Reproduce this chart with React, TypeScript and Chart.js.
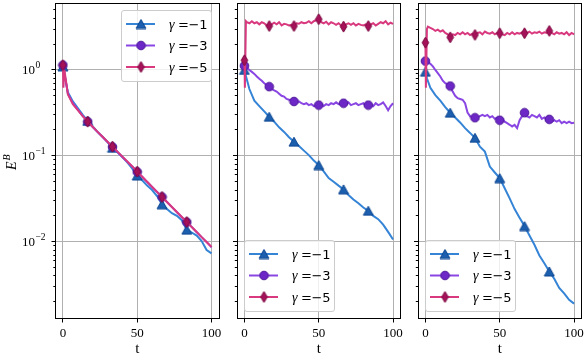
import React, { useEffect, useRef } from 'react';
import { Chart, registerables } from 'chart.js';

Chart.register(...registerables);

// ---------------- data ----------------
const T_COARSE = [0, 0.3, 1, 3.33, 6.67, 10, 13.33, 16.67, 20, 23.33, 26.67, 30, 33.33, 36.67, 40, 43.33, 46.67, 50, 53.33, 56.67, 60, 63.33, 66.67, 70, 73.33, 76.67, 80, 83.33, 86.67, 90, 93.33, 96.67, 100];
const T_FINE = [0, 0.3, 1, 1.67, 3.33, 5, 6.67, 8.33, 10, 11.67, 13.33, 15, 16.67, 18.33, 20, 21.67, 23.33, 25, 26.67, 28.33, 30, 31.67, 33.33, 35, 36.67, 38.33, 40, 41.67, 43.33, 45, 46.67, 48.33, 50, 51.67, 53.33, 55, 56.67, 58.33, 60, 61.67, 63.33, 65, 66.67, 68.33, 70, 71.67, 73.33, 75, 76.67, 78.33, 80, 81.67, 83.33, 85, 86.67, 88.33, 90, 91.67, 93.33, 95, 96.67, 98.33, 100];

const MARKER_T = [0, 16.67, 33.33, 50, 66.67, 83.33];
const X_TICKS = [0, 50, 100];
const Y_TICKS = [0.002, 0.003, 0.004, 0.005, 0.006, 0.007, 0.008, 0.009, 0.01, 0.02, 0.03, 0.04, 0.05, 0.06, 0.07, 0.08, 0.09, 0.1, 0.2, 0.3, 0.4, 0.5, 0.6, 0.7, 0.8, 0.9, 1, 2, 3, 4, 5];
const Y_LABEL_VALUES = [1, 0.1, 0.01];
const Y_LABEL_EXPONENTS = ['0', '−1', '−2'];
const GAMMAS = ['-1', '-3', '-5'];
const X_TITLE = 't';

// panel 1
const P1_G1 = [1.1, 1.0, 0.88, 0.55, 0.43, 0.36, 0.30, 0.255, 0.22, 0.19, 0.167, 0.145, 0.124, 0.11, 0.097, 0.084, 0.071, 0.059, 0.052, 0.045, 0.040, 0.034, 0.0273, 0.024, 0.0215, 0.020, 0.0178, 0.0138, 0.0128, 0.0118, 0.0102, 0.0080, 0.0073];
const P1_G3 = [1.14, 1.05, 0.92, 0.53, 0.41, 0.345, 0.29, 0.25, 0.216, 0.189, 0.166, 0.145, 0.127, 0.111, 0.097, 0.085, 0.075, 0.065, 0.057, 0.0495, 0.0433, 0.038, 0.0332, 0.029, 0.0253, 0.022, 0.0193, 0.0169, 0.0148, 0.0129, 0.0113, 0.0099, 0.0086];
const P1_G5 = [1.14, 0.62, 1.0, 0.52, 0.40, 0.34, 0.29, 0.25, 0.218, 0.19, 0.167, 0.146, 0.128, 0.112, 0.098, 0.086, 0.075, 0.0655, 0.057, 0.050, 0.0435, 0.038, 0.0332, 0.029, 0.0254, 0.0222, 0.0194, 0.0170, 0.0148, 0.0130, 0.0113, 0.0099, 0.0087];

// panel 2
const P2_G1 = [1.0, 0.95, 0.85, 0.6, 0.44, 0.38, 0.33, 0.285, 0.25, 0.215, 0.19, 0.165, 0.146, 0.13, 0.115, 0.102, 0.088, 0.078, 0.066, 0.055, 0.050, 0.045, 0.0407, 0.035, 0.031, 0.028, 0.025, 0.0229, 0.020, 0.0183, 0.0158, 0.013, 0.0106];
const P2_G3 = [1.12, 1.1, 1.08, 1.06, 1.0, 0.95, 0.9, 0.84, 0.79, 0.75, 0.7, 0.67, 0.64, 0.6, 0.58, 0.56, 0.53, 0.5, 0.49, 0.46, 0.45, 0.44, 0.43, 0.42, 0.43, 0.41, 0.40, 0.41, 0.39, 0.40, 0.38, 0.39, 0.39, 0.40, 0.38, 0.40, 0.39, 0.41, 0.40, 0.42, 0.40, 0.41, 0.41, 0.40, 0.42, 0.39, 0.40, 0.41, 0.39, 0.40, 0.41, 0.38, 0.39, 0.40, 0.38, 0.41, 0.39, 0.40, 0.42, 0.38, 0.34, 0.38, 0.41];
const P2_G5 = [1.3, 0.62, 3.7, 3.6, 3.5, 3.7, 3.5, 3.6, 3.4, 3.6, 3.5, 3.3, 3.25, 3.4, 3.55, 3.4, 3.6, 3.3, 3.45, 3.4, 3.3, 3.35, 3.25, 3.5, 3.45, 3.6, 3.5, 3.55, 3.7, 3.5, 3.7, 3.8, 3.9, 3.6, 3.5, 3.65, 3.4, 3.6, 3.5, 3.35, 3.5, 3.3, 3.2, 3.4, 3.5, 3.35, 3.5, 3.3, 3.45, 3.35, 3.3, 3.4, 3.25, 3.4, 3.5, 3.3, 3.45, 3.6, 3.5, 3.7, 3.4, 3.55, 3.45];

// panel 3
const P3_G1 = [0.955, 0.9, 0.8, 0.62, 0.51, 0.44, 0.37, 0.318, 0.28, 0.245, 0.21, 0.185, 0.162, 0.128, 0.112, 0.075, 0.064, 0.055, 0.042, 0.032, 0.024, 0.019, 0.0152, 0.0118, 0.0092, 0.0069, 0.0056, 0.0045, 0.0037, 0.0029, 0.0025, 0.0021, 0.0019];
const P3_G3 = [1.27, 1.26, 1.25, 1.23, 1.18, 1.1, 1.0, 0.92, 0.84, 0.75, 0.7, 0.68, 0.65, 0.56, 0.50, 0.47, 0.46, 0.45, 0.41, 0.32, 0.29, 0.28, 0.278, 0.28, 0.29, 0.30, 0.29, 0.30, 0.28, 0.29, 0.27, 0.28, 0.26, 0.27, 0.25, 0.24, 0.23, 0.22, 0.23, 0.21, 0.26, 0.29, 0.318, 0.29, 0.28, 0.30, 0.29, 0.28, 0.30, 0.27, 0.28, 0.26, 0.266, 0.25, 0.26, 0.25, 0.26, 0.24, 0.25, 0.24, 0.25, 0.24, 0.243];
const P3_G5 = [2.08, 0.62, 3.0, 3.2, 3.1, 3.0, 2.85, 2.95, 2.8, 2.9, 2.7, 2.6, 2.4, 2.6, 2.55, 2.7, 2.6, 2.75, 2.6, 2.7, 2.55, 2.65, 2.56, 2.7, 2.75, 2.6, 2.8, 2.7, 2.65, 2.75, 2.6, 2.7, 2.68, 2.6, 2.55, 2.7, 2.6, 2.75, 2.6, 2.7, 2.65, 2.75, 2.68, 2.7, 2.8, 2.65, 2.75, 2.7, 2.8, 2.65, 2.75, 2.7, 2.85, 2.7, 2.6, 2.75, 2.65, 2.7, 2.6, 2.75, 2.55, 2.7, 2.6];

// ---------------- style ----------------
const SERIF = '"Liberation Serif", "DejaVu Serif", serif';
const GRID = '#b0b0b0';
const Y_MIN = 0.001275;
const Y_MAX = 5.98;
const STYLES = [
  { line: '#3584d6', face: '#1c5fae', edge: '#0c4591', kind: 'tri' },
  { line: '#8a46e3', face: '#6d27c6', edge: '#4b1596', kind: 'circle' },
  { line: '#d8397f', face: '#a5125a', edge: '#7c0a41', kind: 'diamond' },
];

type PanelCfg = {
  left: number; yw: number; areaW: number; yLabels: boolean; legend: 'ur' | 'll';
  series: { t: number[]; v: number[] }[];
};

const PANELS: PanelCfg[] = [
  { left: 0, yw: 55.5, areaW: 163.5, yLabels: true, legend: 'ur',
    series: [{ t: T_COARSE, v: P1_G1 }, { t: T_COARSE, v: P1_G3 }, { t: T_COARSE, v: P1_G5 }] },
  { left: 226, yw: 11, areaW: 163.5, yLabels: false, legend: 'll',
    series: [{ t: T_COARSE, v: P2_G1 }, { t: T_FINE, v: P2_G3 }, { t: T_FINE, v: P2_G5 }] },
  { left: 407, yw: 11, areaW: 163.5, yLabels: false, legend: 'll',
    series: [{ t: T_COARSE, v: P3_G1 }, { t: T_FINE, v: P3_G3 }, { t: T_FINE, v: P3_G5 }] },
];

const isDecade = (v: number) => {
  const l = Math.log10(v);
  return Math.abs(l - Math.round(l)) < 1e-9;
};
const isMarker = (x: number) => MARKER_T.some((m) => Math.abs(m - x) < 0.05);
const align = (p: number) => Math.round(p - 0.5) + 0.5;

function makeMarker(kind: string, face: string, edge: string) {
  const c = document.createElement('canvas');
  if (kind === 'tri') { c.width = 12; c.height = 11; }
  else if (kind === 'circle') { c.width = 11; c.height = 11; }
  else { c.width = 9; c.height = 13; }
  const g = c.getContext('2d')!;
  g.beginPath();
  if (kind === 'tri') {
    g.moveTo(6, 1); g.lineTo(11, 10); g.lineTo(1, 10); g.closePath();
  } else if (kind === 'circle') {
    g.arc(5.5, 5.5, 4.3, 0, Math.PI * 2);
  } else {
    g.moveTo(4.5, 1); g.lineTo(7.8, 6.5); g.lineTo(4.5, 12); g.lineTo(1.2, 6.5); g.closePath();
  }
  g.fillStyle = face; g.fill();
  g.lineWidth = 1; g.strokeStyle = edge; g.stroke();
  return c;
}

function makeDecor(cfg: PanelCfg, markers: HTMLCanvasElement[]) {
  return {
    id: 'decor',
    afterDraw(chart: any) {
      const { ctx, chartArea: a } = chart;
      const xs = chart.scales.x, ys = chart.scales.y;
      ctx.save();
      // tick marks
      ctx.strokeStyle = '#000';
      ctx.lineWidth = 1;
      ctx.beginPath();
      for (const t of xs.ticks) {
        const px = align(xs.getPixelForValue(t.value));
        ctx.moveTo(px, a.bottom); ctx.lineTo(px, a.bottom + 4);
      }
      for (const t of ys.ticks) {
        const py = align(ys.getPixelForValue(t.value));
        const len = isDecade(t.value) ? 4 : 2.2;
        ctx.moveTo(a.left, py); ctx.lineTo(a.left - len, py);
      }
      ctx.stroke();
      // spines
      const L = align(a.left), R = align(a.right), T = align(a.top), B = align(a.bottom);
      ctx.strokeRect(L, T, R - L, B - T);

      if (cfg.yLabels) {
        // y tick labels 10^n
        ctx.fillStyle = '#000';
        ctx.textAlign = 'left';
        ctx.textBaseline = 'middle';
        Y_LABEL_VALUES.forEach((v, i) => {
          const py = ys.getPixelForValue(v);
          ctx.font = `13px ${SERIF}`;
          ctx.fillText('10', 22, py + 0.5);
          const w = ctx.measureText('10').width;
          ctx.font = `9.5px ${SERIF}`;
          ctx.fillText(Y_LABEL_EXPONENTS[i], 22 + w + 0.5, py - 4.5);
        });
        // y title
        ctx.save();
        ctx.translate(15.5, 170);
        ctx.rotate(-Math.PI / 2);
        ctx.textAlign = 'left';
        ctx.textBaseline = 'alphabetic';
        ctx.font = `italic 14px ${SERIF}`;
        ctx.fillText('E', 0, 0);
        const w = ctx.measureText('E').width;
        ctx.font = `italic 10px ${SERIF}`;
        ctx.fillText('B', w + 1, -5.5);
        ctx.restore();
      }

      // legend
      const bw = 90, bh = 71;
      let bx: number, by: number;
      if (cfg.legend === 'ur') { bx = Math.round(a.right - 8 - bw); by = Math.round(a.top + 7); }
      else { bx = Math.round(a.left + 7); by = Math.round(a.bottom - 8 - bh); }
      ctx.fillStyle = 'rgba(255,255,255,0.8)';
      ctx.strokeStyle = '#cccccc';
      ctx.lineWidth = 1;
      ctx.beginPath();
      ctx.roundRect(bx + 0.5, by + 0.5, bw, bh, 2.5);
      ctx.fill();
      ctx.stroke();
      const rows = [14, 35.5, 57];
      STYLES.forEach((s, i) => {
        const ry = by + rows[i];
        ctx.strokeStyle = s.line;
        ctx.lineWidth = 2;
        ctx.beginPath();
        ctx.moveTo(bx + 5, ry); ctx.lineTo(bx + 34, ry);
        ctx.stroke();
        const m = markers[i];
        ctx.drawImage(m, bx + 20 - m.width / 2, ry - m.height / 2);
        ctx.fillStyle = '#000';
        ctx.textAlign = 'left';
        ctx.textBaseline = 'alphabetic';
        const base = ry + 4.5;
        let tx = bx + 48;
        ctx.font = `italic 14px ${SERIF}`;
        ctx.fillText('γ', tx, base);
        tx += ctx.measureText('γ').width + 3.5;
        ctx.font = '13px "DejaVu Serif", serif';
        ctx.fillText('=', tx, base);
        tx += ctx.measureText('=').width - 0.5;
        ctx.font = '13px "DejaVu Sans", sans-serif';
        ctx.fillText(GAMMAS[i].replace('-', '−'), tx, base);
      });
      ctx.restore();
    },
  };
}

function Panel({ cfg }: { cfg: PanelCfg }) {
  const ref = useRef<HTMLCanvasElement>(null);
  const canvasW = Math.ceil(cfg.yw + cfg.areaW + 14);
  const padR = canvasW - cfg.yw - cfg.areaW;

  useEffect(() => {
    const canvas = ref.current;
    if (!canvas) return;
    const markers = STYLES.map((s) => makeMarker(s.kind, s.face, s.edge));
    const chart = new Chart(canvas, {
      type: 'line',
      data: {
        datasets: cfg.series.map((s, i) => ({
          label: `γ =${GAMMAS[i]}`,
          data: s.t.map((t, j) => ({ x: t, y: s.v[j] })),
          borderColor: STYLES[i].line,
          backgroundColor: STYLES[i].face,
          borderWidth: 2,
          pointStyle: markers[i] as any,
          pointRadius: (c: any) => (c.raw && isMarker(c.raw.x) ? 5 : 0),
          pointHoverRadius: 0,
          order: 2 - i,
          tension: 0,
          fill: false,
        })),
      },
      options: {
        responsive: false,
        animation: false,
        devicePixelRatio: 1,
        events: [],
        layout: { autoPadding: false, padding: { left: 0, right: padR, top: 3.3, bottom: 0 } },
        plugins: { legend: { display: false }, tooltip: { enabled: false } },
        scales: {
          x: {
            type: 'linear',
            min: -5,
            max: 105,
            afterBuildTicks: (s: any) => { s.ticks = X_TICKS.map((v) => ({ value: v })); },
            afterFit: (s: any) => { s.height = 41.5; },
            grid: { color: GRID, lineWidth: 1, drawTicks: false },
            border: { display: false },
            ticks: {
              autoSkip: false, maxRotation: 0, padding: 7, color: '#000',
              font: { family: SERIF, size: 13 },
              callback: (v: any) => String(v),
            },
            title: {
              display: true, text: X_TITLE, color: '#000',
              font: { family: SERIF, size: 15, lineHeight: 1.4 }, padding: 0,
            },
          },
          y: {
            type: 'logarithmic',
            min: Y_MIN,
            max: Y_MAX,
            afterBuildTicks: (s: any) => { s.ticks = Y_TICKS.map((v) => ({ value: v })); },
            afterFit: (s: any) => { s.width = cfg.yw; },
            grid: {
              color: (c: any) => (c.tick && isDecade(c.tick.value) ? GRID : 'rgba(0,0,0,0)'),
              lineWidth: 1,
              drawTicks: false,
            },
            border: { display: false },
            ticks: { display: false, autoSkip: false },
          },
        },
      } as any,
      plugins: [makeDecor(cfg, markers)],
    });
    return () => chart.destroy();
  }, []);

  return (
    <canvas
      ref={ref}
      width={canvasW}
      height={360}
      style={{ position: 'absolute', left: cfg.left, top: 0, width: canvasW, height: 360 }}
    />
  );
}

export default function App() {
  return (
    <div style={{ position: 'absolute', left: 0, top: 0, width: 585, height: 360, background: '#fff', overflow: 'hidden' }}>
      {PANELS.map((p, i) => <Panel key={i} cfg={p} />)}
    </div>
  );
}
